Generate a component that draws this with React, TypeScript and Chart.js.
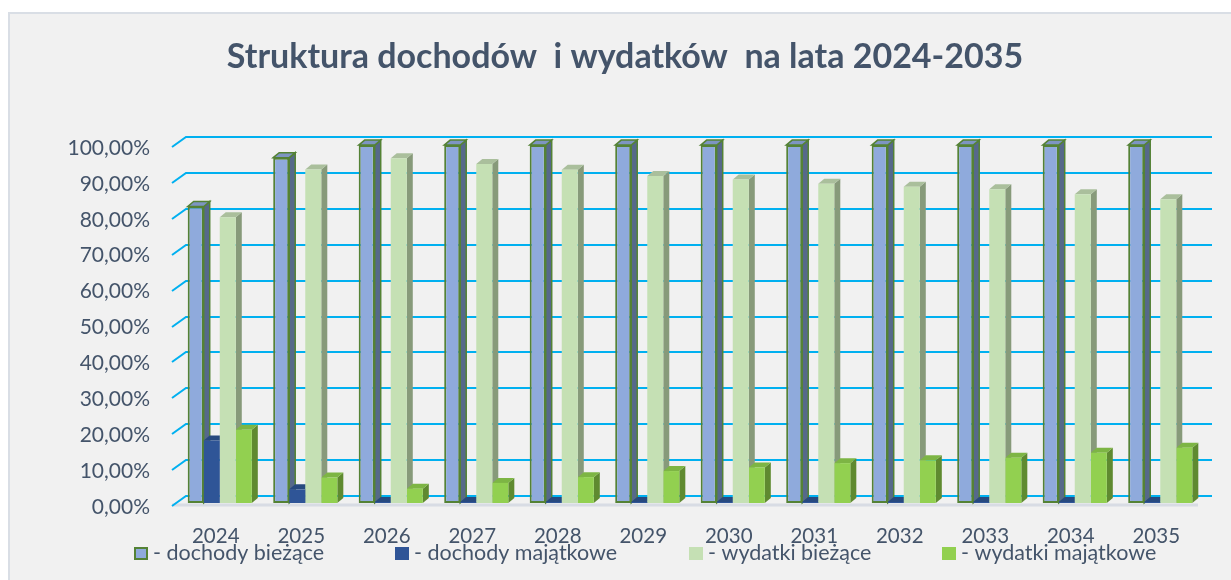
import React, { useEffect, useRef } from "react";
import { Chart, registerables } from "chart.js";

Chart.register(...registerables);

const years = ["2024", "2025", "2026", "2027", "2028", "2029", "2030", "2031", "2032", "2033", "2034", "2035"];
const dochodyBiezace = [82.6, 96.2, 99.7, 99.7, 99.7, 99.7, 99.7, 99.7, 99.7, 99.7, 99.7, 99.7];
const dochodyMajatkowe = [17.4, 3.8, 0.3, 0.3, 0.3, 0.3, 0.3, 0.3, 0.3, 0.3, 0.3, 0.3];
const wydatkiBiezace = [79.6, 92.9, 96.0, 94.4, 92.8, 91.1, 90.1, 88.9, 88.1, 87.4, 86.0, 84.6];
const wydatkiMajatkowe = [20.4, 7.1, 4.0, 5.6, 7.2, 8.9, 9.9, 11.1, 11.9, 12.6, 14.0, 15.4];
const seriesLabels = ["- dochody bieżące", "- dochody majątkowe", "- wydatki bieżące", "- wydatki majątkowe"];
const titleText = "Struktura dochodów  i wydatków  na lata 2024-2035";

const TEXT = "#44546a";
const FONT = "Lato";
const GRID = "#00b0f0";

const styles = [
  { front: "#8faadc", top: "#7d95c2", side: "#56698a", border: "#548235", bw: 2 },
  { front: "#2f5597", top: "#27497f", side: "#1f3864", border: "#2f5597", bw: 0 },
  { front: "#c5e0b4", top: "#aabf9c", side: "#879a7a", border: "#c5e0b4", bw: 0 },
  { front: "#92d050", top: "#7db544", side: "#5f8a30", border: "#6a9a36", bw: 0 },
];

const DX = 6;
const DY = 5;

const threeD = {
  id: "threeD",
  beforeDraw(chart: any) {
    const { ctx, width, height } = chart;
    ctx.save();
    ctx.fillStyle = "#ffffff";
    ctx.fillRect(0, 0, width, height);
    ctx.fillStyle = "#f1f1f1";
    ctx.fillRect(8, 12, width - 8, height - 12);
    ctx.strokeStyle = "#d9dee5";
    ctx.lineWidth = 2;
    ctx.beginPath();
    ctx.moveTo(9, height);
    ctx.lineTo(9, 13);
    ctx.lineTo(width, 13);
    ctx.stroke();
    // title
    ctx.fillStyle = TEXT;
    ctx.font = `bold 34px ${FONT}`;
    ctx.textAlign = "center";
    ctx.textBaseline = "middle";
    ctx.fillText(titleText, 625, 57);
    ctx.restore();
  },
  beforeDatasetsDraw(chart: any) {
    const { ctx, chartArea, scales } = chart;
    const ys = scales.y;
    ctx.save();
    // floor front edge
    ctx.strokeStyle = "#d8dce4";
    ctx.lineWidth = 3;
    ctx.beginPath();
    ctx.moveTo(chartArea.left - 5, ys.getPixelForValue(0) + 2);
    ctx.lineTo(chartArea.right - 5, ys.getPixelForValue(0) + 2);
    ctx.stroke();
    // grid lines on back wall with diagonal on side wall
    ctx.strokeStyle = GRID;
    ctx.lineWidth = 2;
    for (let v = 0; v <= 100; v += 10) {
      const yb = Math.round(ys.getPixelForValue(v) - 7);
      ctx.beginPath();
      ctx.moveTo(chartArea.left - 5, yb + 10);
      ctx.lineTo(chartArea.left + 9, yb);
      ctx.lineTo(chartArea.right + 9, yb);
      ctx.stroke();
    }
    // side and top faces
    const metas = chart.data.datasets.map((_: any, i: number) => chart.getDatasetMeta(i));
    const n = chart.data.labels.length;
    for (let i = 0; i < n; i++) {
      metas.forEach((meta: any, d: number) => {
        const el = meta.data[i];
        if (!el) return;
        const p = el.getProps(["x", "y", "base", "width"], true);
        const l = p.x - p.width / 2;
        const r = p.x + p.width / 2;
        const st = styles[d];
        ctx.lineWidth = 1.5;
        // side
        ctx.beginPath();
        ctx.moveTo(r, p.y);
        ctx.lineTo(r + DX, p.y - DY);
        ctx.lineTo(r + DX, p.base - DY);
        ctx.lineTo(r, p.base);
        ctx.closePath();
        ctx.fillStyle = st.side;
        ctx.fill();
        if (st.bw) {
          ctx.strokeStyle = st.border;
          ctx.stroke();
        }
        // top
        ctx.beginPath();
        ctx.moveTo(l, p.y);
        ctx.lineTo(l + DX, p.y - DY);
        ctx.lineTo(r + DX, p.y - DY);
        ctx.lineTo(r, p.y);
        ctx.closePath();
        ctx.fillStyle = st.top;
        ctx.fill();
        if (st.bw) {
          ctx.strokeStyle = st.border;
          ctx.stroke();
        }
      });
    }
    ctx.restore();
  },
  afterDraw(chart: any) {
    const { ctx } = chart;
    const xs = [134, 395, 689, 942];
    ctx.save();
    ctx.font = `21.5px ${FONT}`;
    ctx.textBaseline = "middle";
    ctx.textAlign = "left";
    chart.data.datasets.forEach((ds: any, d: number) => {
      const st = styles[d];
      const x = xs[d];
      ctx.fillStyle = st.front;
      ctx.fillRect(x, 547, 14, 13);
      if (st.bw) {
        ctx.strokeStyle = st.border;
        ctx.lineWidth = 2;
        ctx.strokeRect(x + 1, 548, 12, 11);
      }
      ctx.fillStyle = TEXT;
      ctx.fillText(ds.label, x + 19, 553);
    });
    ctx.restore();
  },
};

export default function App() {
  const ref = useRef<HTMLCanvasElement | null>(null);
  useEffect(() => {
    document.body.style.margin = "0";
    const canvas = ref.current;
    if (!canvas) return;
    const datasetsData = [dochodyBiezace, dochodyMajatkowe, wydatkiBiezace, wydatkiMajatkowe];
    const chart = new Chart(canvas, {
      type: "bar",
      data: {
        labels: years,
        datasets: datasetsData.map((data, d) => ({
          label: seriesLabels[d],
          data,
          backgroundColor: styles[d].front,
          borderColor: styles[d].border,
          borderWidth: styles[d].bw,
          borderSkipped: false,
          barPercentage: 1,
          categoryPercentage: 0.75,
        })),
      },
      options: {
        responsive: false,
        animation: false,
        devicePixelRatio: 1,
        layout: { padding: { left: 0, right: 28, top: 144, bottom: 37 } },
        plugins: {
          legend: { display: false },
          title: { display: false },
          tooltip: { enabled: false },
        },
        scales: {
          x: {
            grid: { display: false, drawTicks: false },
            border: { display: false },
            ticks: {
              color: TEXT,
              font: { family: FONT, size: 20.5 },
              padding: 21,
              labelOffset: -4,
              maxRotation: 0,
              autoSkip: false,
            },
            afterFit: (s: any) => {
              s.height = 40;
            },
          },
          y: {
            min: 0,
            max: 100,
            grid: { display: false, drawTicks: false },
            border: { display: false },
            ticks: {
              stepSize: 10,
              color: TEXT,
              font: { family: FONT, size: 21 },
              padding: 27,
              labelOffset: 4,
              callback: (v: any) => Number(v).toFixed(2).replace(".", ",") + "%",
            },
            afterFit: (s: any) => {
              s.width = 177;
            },
          },
        },
      },
      plugins: [threeD],
    });
    return () => chart.destroy();
  }, []);
  return (
    <div style={{ width: 1231, height: 580, position: "relative" }}>
      <canvas ref={ref} width={1231} height={580} style={{ display: "block" }} />
    </div>
  );
}
